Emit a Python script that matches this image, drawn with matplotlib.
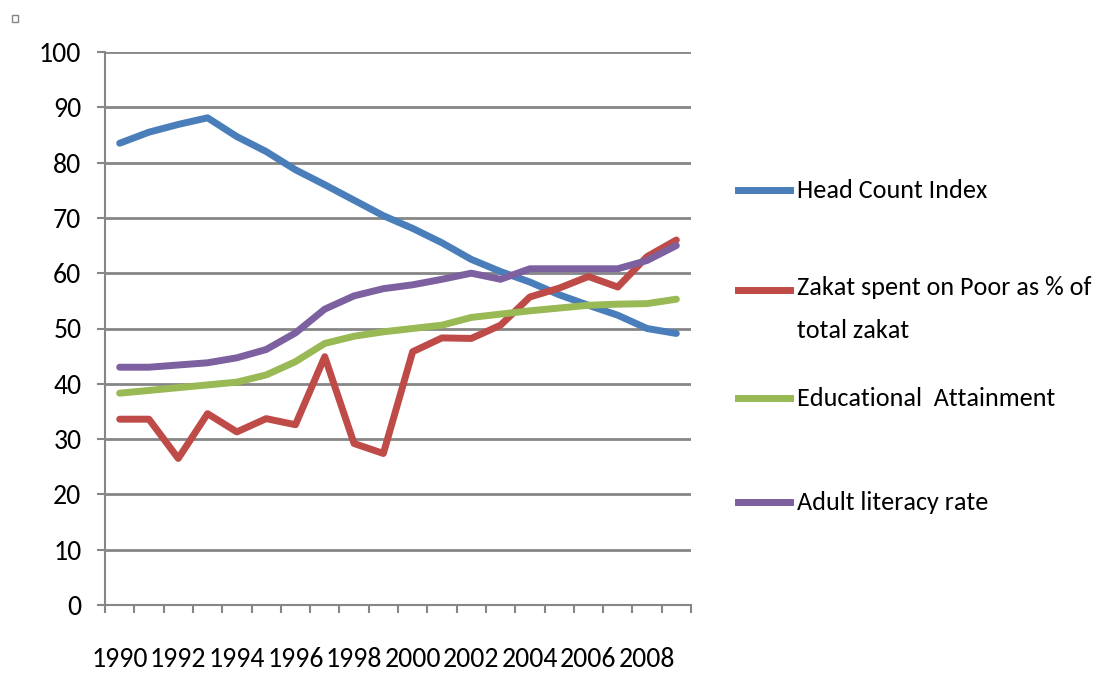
import numpy as np
import matplotlib.pyplot as plt
from matplotlib.lines import Line2D
from matplotlib.patches import Rectangle

plt.rcParams['font.family'] = ['Carlito', 'DejaVu Sans']

years = list(range(1990, 2010))
head_count = [83.5, 85.5, 86.9, 88.1, 84.7, 82.0, 78.7, 76.0, 73.2, 70.4,
              68.1, 65.5, 62.5, 60.3, 58.4, 56.1, 54.2, 52.4, 50.0, 49.1]
zakat_poor = [33.6, 33.6, 26.5, 34.6, 31.3, 33.7, 32.6, 44.9, 29.2, 27.4,
              45.8, 48.3, 48.2, 50.6, 55.7, 57.3, 59.4, 57.5, 63.0, 66.0]
education = [38.3, 38.8, 39.3, 39.8, 40.3, 41.6, 44.0, 47.3, 48.6, 49.4,
             50.0, 50.6, 52.0, 52.6, 53.2, 53.7, 54.2, 54.4, 54.5, 55.3]
literacy = [43.0, 43.0, 43.4, 43.8, 44.7, 46.2, 49.2, 53.5, 55.9, 57.2,
            57.9, 58.9, 60.0, 58.9, 60.8, 60.8, 60.8, 60.8, 62.3, 65.0]

labels = ['Head Count Index', 'Zakat spent on Poor as % of\ntotal zakat',
          'Educational  Attainment', 'Adult literacy rate']
colors = ['#4A7EBB', '#BE4B48', '#98B954', '#7D60A0']
series = [head_count, zakat_poor, education, literacy]

fig = plt.figure(figsize=(10.96, 6.73), dpi=100)
ax = fig.add_axes([105 / 1096, 68 / 673, 586 / 1096, 553 / 673])

x = np.arange(len(years))
for vals, c in zip(series, colors):
    ax.plot(x, vals, color=c, linewidth=5, solid_capstyle='round', solid_joinstyle='round')

grey = '#868686'
fs = 20
ax.set_xlim(-0.5, len(years) - 0.5)
ax.set_ylim(0, 100)
ax.set_yticks(range(0, 101, 10))
ax.yaxis.grid(True, color=grey, linewidth=2)
ax.set_axisbelow(True)
for s in ['top', 'right']:
    ax.spines[s].set_visible(False)
for s in ['left', 'bottom']:
    ax.spines[s].set_color(grey)
    ax.spines[s].set_linewidth(1.5)
ax.tick_params(axis='y', length=6, width=1.5, color=grey, labelsize=fs, pad=11)

# tick marks on category boundaries, labels on every other year
ax.set_xticks(np.arange(-0.5, len(years), 1))
ax.set_xticklabels([])
ax.tick_params(axis='x', which='major', length=6, width=1.5, color=grey)
ax.set_xticks(x[::2], minor=True)
ax.set_xticklabels([str(y) for y in years[::2]], minor=True)
ax.tick_params(axis='x', which='minor', length=0, labelsize=fs, pad=30)

# legend drawn at the right
leg_fs = 18.8
leg_y = [190, 290, 398, 502]
for lab, c, yy in zip(labels, colors, leg_y):
    fy = 1 - yy / 673
    fig.add_artist(Line2D([738 / 1096, 790 / 1096], [fy, fy], color=c, linewidth=5))
    if '\n' in lab:
        fig.text(797 / 1096, fy + 14 / 673, lab, fontsize=leg_fs, va='top', linespacing=2.05)
    else:
        fig.text(797 / 1096, fy, lab, fontsize=leg_fs, va='center')

fig.add_artist(Rectangle((12 / 1096, 1 - 22 / 673), 6 / 1096, 7 / 673, fill=False,
                         edgecolor=grey, linewidth=1, transform=fig.transFigure))

fig.savefig('out.png', dpi=100)
